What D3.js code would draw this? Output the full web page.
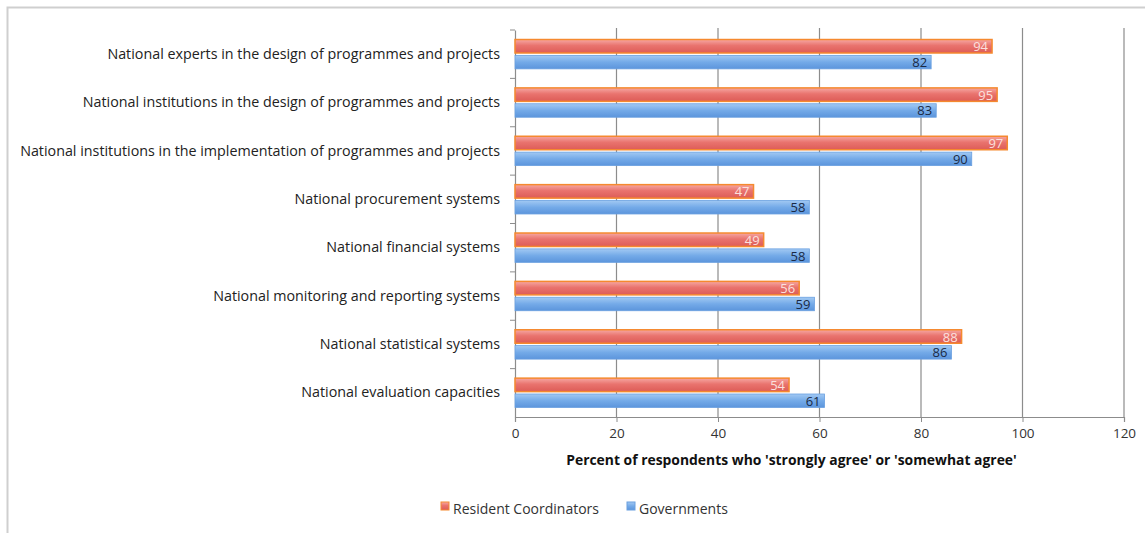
<!DOCTYPE html>
<html lang="en">
<head>
<meta charset="utf-8">
<title>National systems</title>
<script src="https://d3js.org/d3.v7.min.js"></script>
<style>
  body { margin: 0; background: #fff; }
  svg { display: block; }
</style>
</head>
<body>
<div id="chart"></div>
<script>
  // Data
  var categories = [
    "National experts in the design of programmes and projects",
    "National institutions in the design of programmes and projects",
    "National institutions in the implementation of programmes and projects",
    "National procurement systems",
    "National financial systems",
    "National monitoring and reporting systems",
    "National statistical systems",
    "National evaluation capacities"
  ];
  var residentCoordinators = [94, 95, 97, 47, 49, 56, 88, 54];
  var governments = [82, 83, 90, 58, 58, 59, 86, 61];
  var xTicks = [0, 20, 40, 60, 80, 100, 120];
  var seriesNames = ["Resident Coordinators", "Governments"];

  var W = 1145, H = 533;
  var margin = {top: 30, left: 515, right: 21, bottom: 116};

  var svg = d3.select("#chart").append("svg")
    .attr("width", W).attr("height", H);

  // frame
  svg.append("path")
    .attr("d", "M7.5," + H + "V7.5H" + W)
    .attr("fill", "none").attr("stroke", "#cfcfcf").attr("stroke-width", 2);

  var defs = svg.append("defs");
  var gr = defs.append("linearGradient").attr("id", "gRed").attr("x1", 0).attr("y1", 0).attr("x2", 0).attr("y2", 1);
  gr.append("stop").attr("offset", "0%").attr("stop-color", "#f6a8a3");
  gr.append("stop").attr("offset", "45%").attr("stop-color", "#e9736e");
  gr.append("stop").attr("offset", "100%").attr("stop-color", "#dd5c57");
  var gb = defs.append("linearGradient").attr("id", "gBlue").attr("x1", 0).attr("y1", 0).attr("x2", 0).attr("y2", 1);
  gb.append("stop").attr("offset", "0%").attr("stop-color", "#a2c9f3");
  gb.append("stop").attr("offset", "50%").attr("stop-color", "#74aae8");
  gb.append("stop").attr("offset", "100%").attr("stop-color", "#5c95dc");

  var x = d3.scaleLinear().domain([0, 120]).range([margin.left, W - margin.right]);
  var y = d3.scaleBand().domain(categories).range([margin.top, H - margin.bottom]);
  var inner = d3.scaleBand().domain(seriesNames).range([0, y.bandwidth()]).paddingInner(0.15).paddingOuter(0.6);

  var font = "'Open Sans', sans-serif";

  // gridlines
  svg.append("g").selectAll("line").data(xTicks.slice(1)).join("line")
    .attr("x1", d => x(d)).attr("x2", d => x(d))
    .attr("y1", margin.top - 2).attr("y2", H - margin.bottom)
    .attr("stroke", "#8c8c8c").attr("stroke-width", 1.2);

  // x axis
  var xAxis = svg.append("g")
    .attr("transform", "translate(0," + (H - margin.bottom) + ")")
    .call(d3.axisBottom(x).tickValues(xTicks).tickSize(5).tickPadding(6));
  xAxis.select(".domain").attr("stroke", "#8c8c8c").attr("stroke-width", 1.2);
  xAxis.selectAll(".tick line").attr("stroke", "#8c8c8c");
  xAxis.selectAll("text").attr("font-family", font).attr("font-size", 13.5).attr("fill", "#333");

  // y axis
  var yAxis = svg.append("g")
    .attr("transform", "translate(" + margin.left + ",0)")
    .call(d3.axisLeft(y).tickSize(0).tickPadding(15));
  yAxis.select(".domain").attr("stroke", "#8c8c8c").attr("stroke-width", 1.2);
  yAxis.selectAll("text").attr("font-family", font).attr("font-size", 14.3).attr("fill", "#222");
  // small ticks between categories
  svg.append("g").selectAll("line").data(categories).join("line")
    .attr("x1", margin.left - 5).attr("x2", margin.left)
    .attr("y1", d => y(d)).attr("y2", d => y(d))
    .attr("stroke", "#8c8c8c");

  var rows = categories.map((c, i) => ({cat: c, rc: residentCoordinators[i], gov: governments[i]}));

  // bars
  var bars = svg.append("g");
  bars.selectAll("rect.gov").data(rows).join("rect")
    .attr("class", "gov")
    .attr("x", x(0)).attr("y", d => y(d.cat) + inner("Governments"))
    .attr("width", d => x(d.gov) - x(0)).attr("height", inner.bandwidth())
    .attr("fill", "url(#gBlue)").attr("stroke", "#6aa0e0").attr("stroke-width", 0.8);
  bars.selectAll("rect.rc").data(rows).join("rect")
    .attr("class", "rc")
    .attr("x", x(0)).attr("y", d => y(d.cat) + inner("Resident Coordinators"))
    .attr("width", d => x(d.rc) - x(0)).attr("height", inner.bandwidth())
    .attr("fill", "url(#gRed)").attr("stroke", "#f5892f").attr("stroke-width", 1.5);

  // value labels
  bars.selectAll("text.rc").data(rows).join("text")
    .attr("x", d => x(d.rc) - 4).attr("y", d => y(d.cat) + inner("Resident Coordinators") + inner.bandwidth() / 2 + 5)
    .attr("text-anchor", "end").attr("font-family", font).attr("font-size", 13)
    .attr("fill", "#fbe0de").text(d => d.rc);
  bars.selectAll("text.gov").data(rows).join("text")
    .attr("x", d => x(d.gov) - 4).attr("y", d => y(d.cat) + inner("Governments") + inner.bandwidth() / 2 + 5)
    .attr("text-anchor", "end").attr("font-family", font).attr("font-size", 13)
    .attr("fill", "#1a2a45").text(d => d.gov);

  // axis title
  svg.append("text")
    .attr("x", (x(0) + x(120)) / 2 - 28).attr("y", 465)
    .attr("text-anchor", "middle").attr("font-family", font).attr("font-size", 13.9)
    .attr("font-weight", "bold").attr("fill", "#111")
    .text("Percent of respondents who 'strongly agree' or 'somewhat agree'");

  // legend
  var legend = svg.append("g").attr("transform", "translate(0,509)");
  var legendX = [441, 627];
  var legendFill = ["url(#gRed)", "url(#gBlue)"];
  var legendStroke = ["#f5892f", "#6aa0e0"];
  seriesNames.forEach(function(s, i) {
    legend.append("rect").attr("x", legendX[i]).attr("y", -7).attr("width", 8).attr("height", 8)
      .attr("fill", legendFill[i]).attr("stroke", legendStroke[i]).attr("stroke-width", 1);
    legend.append("text").attr("x", legendX[i] + 12).attr("y", 5)
      .attr("font-family", font).attr("font-size", 14).attr("fill", "#333").text(s);
  });
</script>
</body>
</html>
